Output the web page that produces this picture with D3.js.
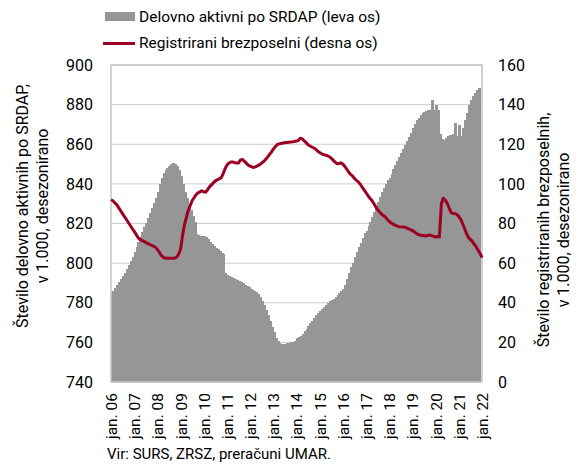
<!DOCTYPE html>
<html>
<head>
<meta charset="utf-8">
<script src="https://cdn.jsdelivr.net/npm/d3@7"></script>
<style>
  body { margin: 0; background: #fff; }
  svg text { font-family: Roboto, "Noto Sans", sans-serif; fill: #000; }
</style>
</head>
<body>
<svg id="chart" width="580" height="468"></svg>
<script>
// Delovno aktivni po SRDAP, v 1.000 (jan. 2006 - nov. 2021)
const aktivni = [
  785, 786, 787.5, 789, 790.5, 792, 793.5, 795, 797, 799, 801, 803,             // 2006
  805.5, 808, 810.5, 813, 815.5, 818, 820.5, 823, 825.5, 828, 830.5, 833,       // 2007
  836, 840, 843, 845.5, 847, 848, 849, 850, 850.5, 850, 849, 847,               // 2008
  844, 840, 836, 833, 830, 827, 824, 821, 814.5, 814, 813.5, 813.5,             // 2009
  813.5, 813, 812, 810.5, 809.5, 808.5, 807.5, 807, 806, 805, 804.5, 795,       // 2010
  794, 793.5, 793, 792.5, 792, 791.5, 791, 790.5, 790, 789, 788.5, 788,         // 2011
  787, 786.5, 786, 785.5, 784.5, 783, 781, 779, 776.5, 774, 771, 768,           // 2012
  765, 762, 760.5, 759.5, 759, 759, 759, 759.5, 759.5, 760, 760, 760.5,         // 2013
  762, 762.5, 763, 764, 765.5, 767, 768.5, 770, 771, 772.5, 774, 775,           // 2014
  776, 777, 778, 779, 780, 781, 781.5, 782, 783, 784, 785, 786,                 // 2015
  787, 789, 792, 795, 798, 800, 803, 805.5, 808, 810, 812.5, 815,               // 2016
  816, 818.5, 821, 823.5, 826, 828.5, 831, 833.5, 836, 838, 840, 842,           // 2017
  843, 845, 847.5, 849.5, 851.5, 853.5, 855.5, 857.5, 859.5, 861.5, 863.5, 865.5, // 2018
  868, 870, 872, 873.5, 875, 876, 876.5, 877, 877.5, 877.5, 882.5, 877.5,       // 2019
  880, 877.5, 865, 862.5, 862, 863, 864, 864.5, 864, 865, 870.5, 864,           // 2020
  869.5, 864, 868, 872, 876, 880, 882.5, 884.5, 886, 887.5, 888.5               // 2021
];

// Registrirani brezposelni, v 1.000 (jan. 2006 - jan. 2022)
const brezposelni = [
  92, 91.5, 90.5, 89.5, 88, 86.5, 85, 83.5, 82, 80.5, 79, 77.5,                 // 2006
  76, 74.5, 73, 72, 71.5, 71, 70.5, 70, 69.5, 69, 68.5, 68,                     // 2007
  67, 65.5, 64, 63, 62.5, 62.5, 62.5, 62.5, 62.5, 62.5, 63, 64.5,               // 2008
  67, 74, 79, 83, 86.5, 89, 91.5, 93, 94.5, 95.5, 96, 96.5,                     // 2009
  96, 95.8, 97, 98.5, 99.5, 100.5, 101.5, 102, 102.5, 103, 105, 107.5,          // 2010
  109.5, 110.5, 111, 111, 110.8, 110.5, 110.5, 112, 112.4, 111.5, 110.5, 109.5, // 2011
  109, 108.5, 108.3, 108.7, 109.2, 109.7, 110.5, 111.3, 112.3, 113.5, 114.8, 116, // 2012
  117.5, 118.8, 119.8, 120.2, 120.4, 120.6, 120.8, 120.9, 121, 121.1, 121.2, 121.4, // 2013
  121.6, 122, 123, 122.8, 121.8, 120.8, 119.8, 119.1, 118.6, 118.1, 117.5, 116.5, // 2014
  115.8, 115.2, 114.8, 114.5, 114.2, 113.8, 113, 112, 111, 110.2, 110.3, 110.6, // 2015
  110, 108.8, 107.5, 106, 104.8, 104, 102.8, 101.8, 101, 99.8, 98.3, 97,        // 2016
  95.5, 94, 92.8, 91.7, 90.2, 88.5, 87, 85.8, 84.8, 84, 83.3, 82,               // 2017
  81, 80.3, 79.7, 79.2, 78.8, 78.4, 78.3, 78.2, 78.1, 77.8, 77.3, 76.9,         // 2018
  76.4, 75.8, 75.1, 74.5, 74.2, 73.9, 73.8, 73.7, 74, 74.2, 73.9, 73.5,         // 2019
  73.2, 73.4, 73.2, 90, 92.7, 91.8, 90.2, 87.8, 85.6, 85, 85, 84.6,             // 2020
  83.5, 82, 80, 77.5, 75, 73, 72, 71, 69.5, 68.3, 66.5, 65,                     // 2021
  62.7                                                                          // 2022
];

const leftTicks = [740, 760, 780, 800, 820, 840, 860, 880, 900];
const rightTicks = [0, 20, 40, 60, 80, 100, 120, 140, 160];
const years = d3.range(2006, 2023);

const margin = { top: 65, right: 98, bottom: 86, left: 111 };
const width = 580, height = 468;
const plotW = width - margin.left - margin.right;
const plotH = height - margin.top - margin.bottom;

const svg = d3.select("#chart");

const month = (i) => new Date(2006, i, 1);

const x = d3.scaleTime()
  .domain([new Date(2006, 0, 1), new Date(2022, 0, 1)])
  .range([margin.left, margin.left + plotW]);

const yLeft = d3.scaleLinear().domain([740, 900]).range([margin.top + plotH, margin.top]);
const yRight = d3.scaleLinear().domain([0, 160]).range([margin.top + plotH, margin.top]);

// gridlines
svg.append("g")
  .selectAll("line")
  .data(leftTicks)
  .join("line")
  .attr("x1", margin.left)
  .attr("x2", margin.left + plotW)
  .attr("y1", (d) => yLeft(d))
  .attr("y2", (d) => yLeft(d))
  .attr("stroke", "#cccccc")
  .attr("stroke-width", 1);

// bars, snapped to whole pixels so neighbours touch
svg.append("g")
  .attr("shape-rendering", "crispEdges")
  .selectAll("rect")
  .data(aktivni)
  .join("rect")
  .attr("x", (d, i) => Math.floor(x(month(i))))
  .attr("width", (d, i) => Math.ceil(x(month(i + 1))) - Math.floor(x(month(i))))
  .attr("y", (d) => Math.round(yLeft(d)))
  .attr("height", (d) => yLeft(740) - Math.round(yLeft(d)))
  .attr("fill", "#969696");

// plot frame
svg.append("rect")
  .attr("x", margin.left)
  .attr("y", margin.top)
  .attr("width", plotW)
  .attr("height", plotH)
  .attr("fill", "none")
  .attr("stroke", "#c4c4c4")
  .attr("stroke-width", 1.5);

// unemployment line
const line = d3.line()
  .x((d, i) => x(month(i)))
  .y((d) => yRight(d));

svg.append("path")
  .datum(brezposelni)
  .attr("d", line)
  .attr("fill", "none")
  .attr("stroke", "#9c0022")
  .attr("stroke-width", 3)
  .attr("stroke-linejoin", "round");

// left axis
const gLeft = svg.append("g")
  .attr("transform", `translate(${margin.left - 18}, 0)`)
  .call(d3.axisLeft(yLeft).tickValues(leftTicks).tickSize(0).tickPadding(0));
gLeft.select(".domain").remove();
gLeft.selectAll("text").style("font-size", "16px").attr("font-family", null);

// right axis
const gRight = svg.append("g")
  .attr("transform", `translate(${margin.left + plotW + 16}, 0)`)
  .call(d3.axisRight(yRight).tickValues(rightTicks).tickSize(0).tickPadding(0));
gRight.select(".domain").remove();
gRight.selectAll("text").style("font-size", "16px").attr("font-family", null);

// x axis labels
const gX = svg.append("g")
  .attr("transform", `translate(0, ${margin.top + plotH})`)
  .call(d3.axisBottom(x)
    .tickValues(years.map((y) => new Date(y, 0, 1)))
    .tickFormat((d) => "jan. " + String(d.getFullYear()).slice(2))
    .tickSize(0));
gX.select(".domain").remove();
gX.selectAll("text")
  .attr("font-family", null)
  .style("font-size", "15.5px")
  .attr("text-anchor", "end")
  .attr("transform", "rotate(-90)")
  .attr("x", -11)
  .attr("y", 0)
  .attr("dy", "0.35em");

// axis titles
const leftTitle = ["Število delovno aktivnih po SRDAP,", "v 1.000, desezonirano"];
svg.append("g")
  .selectAll("text")
  .data(leftTitle)
  .join("text")
  .attr("transform", (d, i) => `translate(${22 + i * 20}, 206) rotate(-90)`)
  .attr("text-anchor", "middle")
  .attr("dy", "0.35em")
  .style("font-size", "16px")
  .text((d) => d);

const rightTitle = ["Število registriranih brezposelnih,", "v 1.000, desezonirano"];
svg.append("g")
  .selectAll("text")
  .data(rightTitle)
  .join("text")
  .attr("transform", (d, i) => `translate(${543 + i * 20}, 230) rotate(-90)`)
  .attr("text-anchor", "middle")
  .attr("dy", "0.35em")
  .style("font-size", "16px")
  .text((d) => d);

// legend
const legend = svg.append("g");
legend.append("rect")
  .attr("x", 105).attr("y", 12).attr("width", 30).attr("height", 9)
  .attr("fill", "#969696");
legend.append("text")
  .attr("x", 139).attr("y", 16.5).attr("dy", "0.35em")
  .style("font-size", "15.5px")
  .text("Delovno aktivni po SRDAP (leva os)");
legend.append("line")
  .attr("x1", 103).attr("x2", 135).attr("y1", 43.5).attr("y2", 43.5)
  .attr("stroke", "#9c0022").attr("stroke-width", 3);
legend.append("text")
  .attr("x", 139).attr("y", 43).attr("dy", "0.35em")
  .style("font-size", "15.5px")
  .text("Registrirani brezposelni (desna os)");

// source
svg.append("text")
  .attr("x", 107).attr("y", 459)
  .style("font-size", "15px")
  .text("Vir: SURS, ZRSZ, preračuni UMAR.");
</script>
</body>
</html>
